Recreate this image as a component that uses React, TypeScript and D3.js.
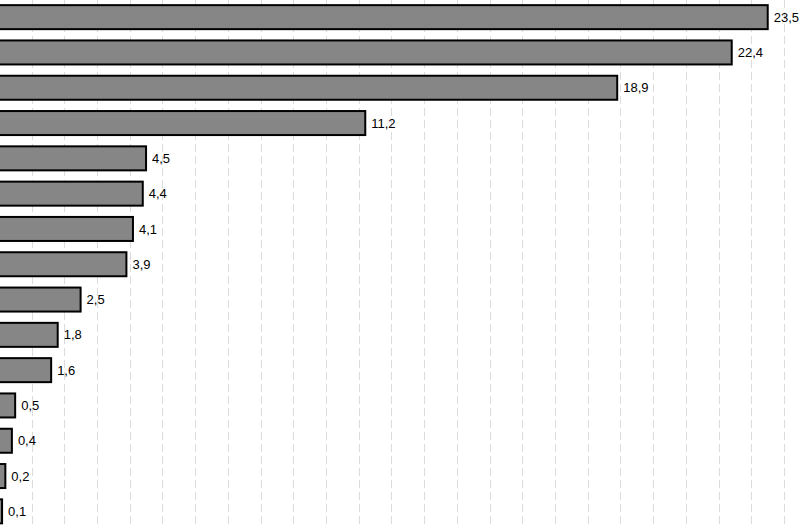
import React from "react";
import * as d3 from "d3";

const categories = ["c1", "c2", "c3", "c4", "c5", "c6", "c7", "c8", "c9", "c10", "c11", "c12", "c13", "c14", "c15"];
const values = [23.5, 22.4, 18.9, 11.2, 4.5, 4.4, 4.1, 3.9, 2.5, 1.8, 1.6, 0.5, 0.4, 0.2, 0.1];
const gridTicks = d3.range(1, 25);

const W = 802;
const H = 528;

export default function App() {
  const x = d3.scaleLinear().domain([0, 24]).range([-1.2, -1.2 + 24 * 32.72]);
  const y = d3
    .scaleBand<string>()
    .domain(categories)
    .range([-0.5, 529])
    .paddingInner(0.32)
    .paddingOuter(0.16);
  const fmt = (v: number) => v.toFixed(1).replace(".", ",");

  return (
    <svg
      width={W}
      height={H}
      style={{ position: "absolute", left: 0, top: 0, display: "block", background: "#fff" }}
      fontFamily="'Liberation Sans', Arial, sans-serif"
    >
      <g>
        {gridTicks.map((t) => (
          <line
            key={t}
            x1={Math.round(x(t)) + 0.5}
            x2={Math.round(x(t)) + 0.5}
            y1={0}
            y2={H}
            stroke="#dcdcdc"
            strokeWidth={1}
            strokeDasharray="8,4"
          />
        ))}
      </g>
      <g>
        {values.map((v, i) => {
          const yy = y(categories[i])!;
          const bw = y.bandwidth();
          return (
            <g key={i}>
              <rect
                x={x(0)}
                y={yy}
                width={x(v) - x(0)}
                height={bw}
                fill="#868686"
                stroke="#000"
                strokeWidth={2}
              />
              <text
                x={x(v) + 6}
                y={yy + bw / 2}
                dy="0.35em"
                fontSize={13}
                fill="#000"
              >
                {fmt(v)}
              </text>
            </g>
          );
        })}
      </g>
    </svg>
  );
}
